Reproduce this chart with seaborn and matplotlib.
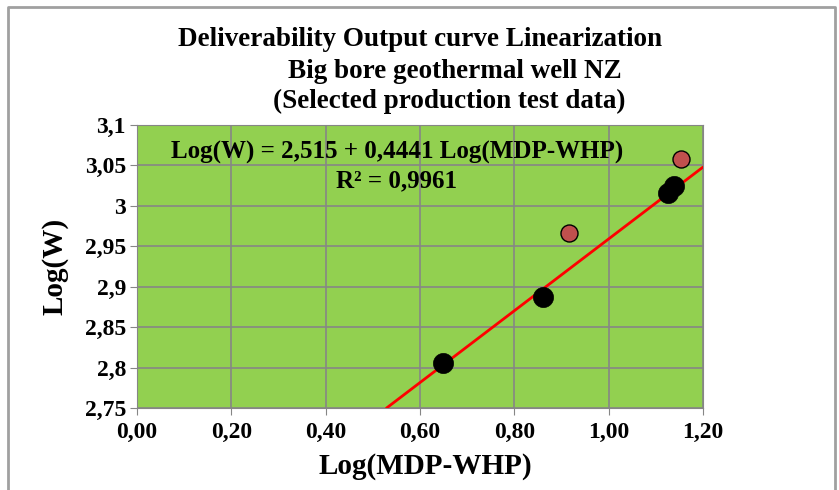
import numpy as np
import pandas as pd
import seaborn as sns
import matplotlib.pyplot as plt
from matplotlib.lines import Line2D
from matplotlib.ticker import FuncFormatter, MultipleLocator

# selected production test data (log values)
fit_x = [0.649, 0.861, 1.126, 1.138]
fit_y = [2.806, 2.887, 3.016, 3.025]
other_x = [0.916, 1.153]
other_y = [2.966, 3.058]

# trendline from the regression shown on the chart
intercept = 2.515
slope = 0.4441
r2 = 0.9961
line_x = [0.529, 1.20]

sns.set_style('white')
plt.rcParams['font.family'] = ['Liberation Serif', 'DejaVu Serif']
plt.rcParams['font.weight'] = 'bold'
plt.rcParams['text.color'] = 'black'
plt.rcParams['xtick.color'] = 'black'
plt.rcParams['ytick.color'] = 'black'
plt.rcParams['axes.labelcolor'] = 'black'

W, H = 839, 490
fig = plt.figure(figsize=(W / 100, H / 100), dpi=100)
ax = fig.add_axes([137 / W, 1 - 408 / H, 566 / W, 283 / H])
ax.set_facecolor('#92D050')

# outer chart border (left, top, right)
border = Line2D([8 / W, 8 / W, 835 / W, 835 / W], [0, 1 - 7 / H, 1 - 7 / H, 0],
                transform=fig.transFigure, color='#a0a0a0', linewidth=2)
fig.add_artist(border)

line_df = pd.DataFrame({'x': line_x})
line_df['y'] = intercept + slope * line_df['x']
sns.lineplot(data=line_df, x='x', y='y', ax=ax, color='#ff0000', linewidth=2, zorder=3)

sns.scatterplot(x=fit_x, y=fit_y, ax=ax, color='black', s=210, edgecolor='black',
                linewidth=0.5, zorder=4)
sns.scatterplot(x=other_x, y=other_y, ax=ax, color='#C0504D', s=150, edgecolor='black',
                linewidth=1, zorder=4)

ax.set_xlim(0, 1.2)
ax.set_ylim(2.75, 3.1)
ax.xaxis.set_major_locator(MultipleLocator(0.2))
ax.yaxis.set_major_locator(MultipleLocator(0.05))
ax.xaxis.set_major_formatter(FuncFormatter(lambda v, p: f'{v:.2f}'.replace('.', ',')))
ax.yaxis.set_major_formatter(FuncFormatter(lambda v, p: f'{round(v, 2):g}'.replace('.', ',')))
ax.grid(True, color='#868686', linewidth=1.2)
ax.set_axisbelow(True)
for s in ax.spines.values():
    s.set_color('#868686')
ax.tick_params(axis='both', which='major', length=5, color='#868686', direction='out',
               labelsize=17, bottom=True, left=True)
ax.tick_params(axis='x', pad=5)
ax.tick_params(axis='y', pad=3)
for lab in ax.get_xticklabels() + ax.get_yticklabels():
    lab.set_fontweight('bold')

ax.set_xlabel('Log(MDP-WHP)', fontsize=21, fontweight='bold')
ax.set_ylabel('Log(W)', fontsize=21, fontweight='bold')
ax.xaxis.set_label_coords((425 - 137) / 566, (408 - 466) / 283)
ax.yaxis.set_label_coords((55 - 137) / 566, (408 - 266) / 283)
ax.xaxis.label.set_va('center')
ax.yaxis.label.set_va('center')

fig.text(420 / W, 1 - 39 / H, 'Deliverability Output curve Linearization',
         ha='center', va='center', fontsize=19.5, fontweight='bold')
fig.text(455 / W, 1 - 71 / H, 'Big bore geothermal well NZ',
         ha='center', va='center', fontsize=19.5, fontweight='bold')
fig.text(449 / W, 1 - 101 / H, '(Selected production test data)',
         ha='center', va='center', fontsize=19.5, fontweight='bold')

eq = f'Log(W) = {intercept:.3f} + {slope:.4f} Log(MDP-WHP)'.replace('.', ',')
fig.text(397 / W, 1 - 152 / H, eq, ha='center', va='center', fontsize=18, fontweight='bold')
fig.text(397 / W, 1 - 181 / H, f'R² = {r2:.4f}'.replace('.', ','),
         ha='center', va='center', fontsize=18, fontweight='bold')

fig.savefig('out.png', dpi=100)
